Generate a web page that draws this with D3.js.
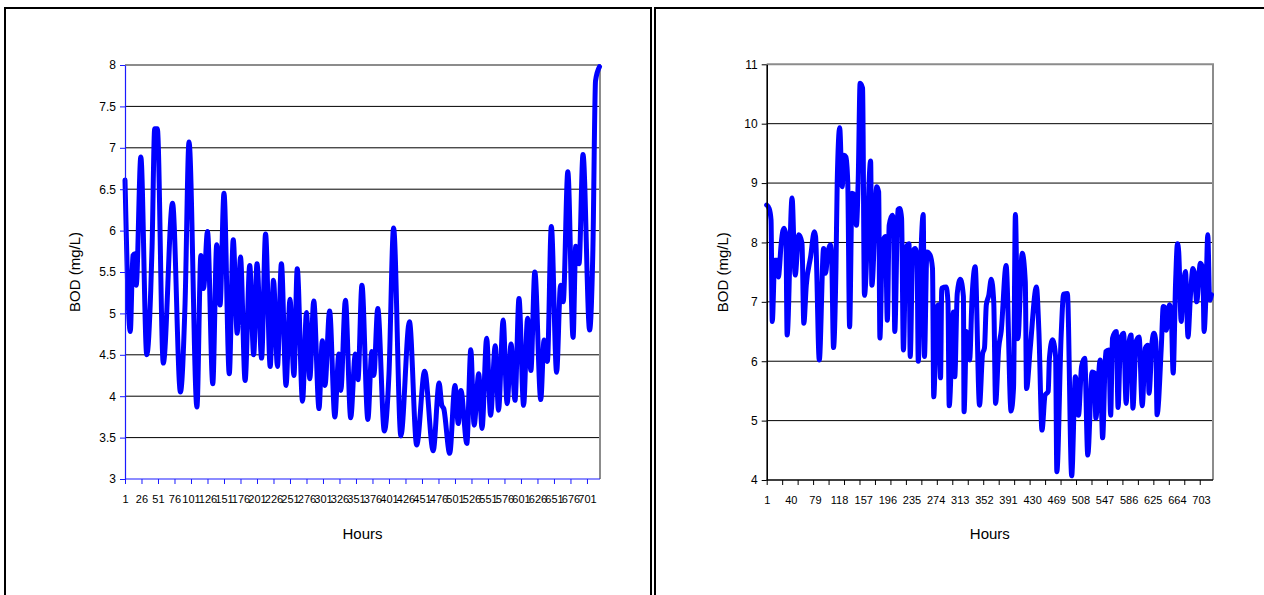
<!DOCTYPE html>
<html>
<head>
<meta charset="utf-8">
<script src="https://cdn.jsdelivr.net/npm/d3@7"></script>
<style>
  html, body { margin: 0; padding: 0; background: #fff; }
  svg { display: block; }
  text { font-family: "Liberation Sans", Arial, sans-serif; fill: #000; }
</style>
</head>
<body>
<svg id="chart" width="1264" height="595"></svg>
<script>
// Hourly BOD series, stored as (hour, mg/L) vertices of each trace.
const leftHours = [1,9,13,16,18,25,34,40,42,46,50,59,73,85,92,98,110,116,120,126,134,140,145,151,159,165,171,176,183,190,196,201,208,214,221,226,232,238,245,251,257,262,270,276,281,287,295,300,304,311,319,325,328,335,343,350,354,360,369,375,378,384,394,401,408,419,432,443,455,468,477,481,484,493,501,506,510,519,525,530,537,542,549,555,562,567,574,580,586,592,598,605,611,616,622,631,636,641,647,655,661,665,672,680,684,689,695,705,710,714,720];
const leftBOD = [6.61,4.78,5.70,5.72,5.34,6.89,4.50,5.28,5.80,7.23,7.23,4.40,6.33,4.05,5.12,7.07,3.87,5.70,5.30,5.99,4.15,5.83,5.10,6.45,4.27,5.89,4.76,5.68,4.19,5.58,4.50,5.60,4.46,5.96,4.36,5.40,4.36,5.60,4.13,5.17,4.25,5.54,3.94,5.01,4.21,5.15,3.85,4.67,4.13,5.03,3.75,4.51,4.07,5.16,3.74,4.51,4.20,5.34,3.72,4.54,4.25,5.06,3.58,4.27,6.03,3.52,4.90,3.41,4.30,3.34,4.16,3.89,3.85,3.31,4.13,3.67,4.07,3.43,4.56,3.65,4.27,3.61,4.70,3.77,4.61,3.83,4.92,3.91,4.63,3.95,5.18,3.89,4.94,4.31,5.50,3.96,4.68,4.42,6.05,4.29,5.34,5.14,6.71,4.71,5.81,5.60,6.92,4.80,5.78,7.81,7.98];

const rightHours = [1,5,8,10,14,18,20,22,24,29,32,34,42,47,53,58,61,65,72,78,80,86,93,96,100,104,106,109,113,115,119,123,126,129,132,135,139,143,146,149,152,156,159,169,171,179,182,184,188,193,196,199,204,206,208,213,216,219,222,226,231,233,237,241,244,246,250,254,256,260,265,269,271,276,279,282,284,291,294,296,303,305,309,314,319,320,324,329,333,338,345,350,353,356,360,364,368,371,376,380,388,396,400,403,407,414,419,421,427,437,441,446,451,456,458,463,468,470,477,481,487,494,500,505,510,515,520,527,531,533,540,544,549,554,557,560,566,569,573,578,582,586,590,593,598,603,608,613,617,619,624,627,630,632,639,642,645,647,652,655,658,662,665,667,671,674,678,682,686,690,693,696,702,706,708,711,714,717,720];
const rightBOD = [8.63,8.57,8.38,6.67,7.70,7.70,7.42,7.62,7.93,8.24,8.13,6.44,8.75,7.45,8.13,7.99,6.64,7.28,7.76,8.18,8.10,6.02,7.90,7.48,7.84,7.96,7.75,6.23,7.60,9.02,9.93,8.94,9.47,9.44,9.02,6.58,8.83,8.80,8.29,9.08,10.68,10.60,7.11,9.37,7.28,8.94,8.85,6.39,7.99,8.10,6.69,8.29,8.46,8.40,6.50,8.55,8.57,8.41,6.19,7.90,7.98,6.08,7.84,7.90,7.73,6.00,7.70,8.47,6.08,7.84,7.79,7.56,5.40,6.89,6.95,5.72,7.23,7.25,7.00,5.25,6.83,5.74,7.14,7.38,7.09,5.15,6.50,6.02,7.09,7.59,5.26,6.13,6.22,6.95,7.11,7.38,7.00,5.29,6.22,6.50,7.61,5.16,5.55,8.47,6.38,7.82,7.34,5.54,6.22,7.25,6.50,4.84,5.43,5.49,6.05,6.36,6.08,4.14,6.44,7.13,7.14,4.07,5.74,5.09,5.91,6.05,4.42,5.82,5.80,5.04,6.02,4.71,6.16,6.19,5.09,6.39,6.50,5.22,6.38,6.47,5.29,6.27,6.44,5.21,6.33,6.41,5.25,6.22,6.27,5.46,6.33,6.47,6.33,5.10,6.27,6.92,6.90,6.52,6.95,6.78,5.80,7.34,7.98,7.84,6.67,7.20,7.51,6.41,7.11,7.56,7.45,7.00,7.65,7.56,6.50,7.10,8.13,7.03,7.12];

// Axis ticks and labels
const leftYTicks = [3,3.5,4,4.5,5,5.5,6,6.5,7,7.5,8];
const leftXTicks = d3.range(1, 702, 25);            // 1, 26, ..., 701
const rightYTicks = [4,5,6,7,8,9,10,11];
const rightXTickMarks = d3.range(1, 702, 25);      // marks every 25 hours
const rightXLabels = d3.range(1, 704, 39);         // 1, 40, ..., 703

const svg = d3.select("#chart");

// Outer chart frames
svg.append("rect").attr("x", 5).attr("y", 8).attr("width", 646).attr("height", 620)
  .attr("fill", "#fff").attr("stroke", "#000").attr("stroke-width", 2);
svg.append("rect").attr("x", 655).attr("y", 8).attr("width", 640).attr("height", 620)
  .attr("fill", "#fff").attr("stroke", "#000").attr("stroke-width", 2);

function drawChart(cfg) {
  const g = svg.append("g");
  const x = d3.scaleLinear().domain([1, 720]).range([cfg.x0, cfg.x1]);
  const y = d3.scaleLinear().domain(cfg.yDomain).range([cfg.yb, cfg.yt]);

  // horizontal gridlines
  g.append("g").selectAll("line")
    .data(cfg.yTicks.filter(v => v > cfg.yDomain[0] && v < cfg.yDomain[1]))
    .join("line")
    .attr("x1", cfg.x0).attr("x2", cfg.xr)
    .attr("y1", d => y(d)).attr("y2", d => y(d))
    .attr("stroke", "#000").attr("stroke-width", 1);

  // plot area frame: top and right in grey
  g.append("path")
    .attr("d", `M${cfg.x0},${cfg.yt}H${cfg.xr}V${cfg.yb}`)
    .attr("fill", "none").attr("stroke", "#8c8c8c").attr("stroke-width", 2);

  // series line
  const pts = cfg.hours.map((h, i) => [h, cfg.values[i]]);
  g.append("path")
    .datum(pts)
    .attr("d", d3.line().curve(d3.curveMonotoneX).x(d => x(d[0])).y(d => y(d[1])))
    .attr("fill", "none")
    .attr("stroke", "#0000ff")
    .attr("stroke-width", 5)
    .attr("stroke-linejoin", "round")
    .attr("stroke-linecap", "round");

  // y axis
  const yAxis = g.append("g")
    .attr("transform", `translate(${cfg.x0},0)`)
    .call(d3.axisLeft(y).tickValues(cfg.yTicks).tickSize(5).tickSizeOuter(0).tickPadding(4)
      .tickFormat(d => String(d)));
  yAxis.select(".domain").attr("stroke", cfg.axisColor).attr("stroke-width", cfg.axisWidth);
  yAxis.selectAll(".tick line").attr("stroke", cfg.axisColor);
  yAxis.selectAll(".tick text").attr("font-size", 12).attr("font-family", "Liberation Sans, Arial, sans-serif");

  // x axis tick marks
  const xAxis = g.append("g")
    .attr("transform", `translate(0,${cfg.yb})`)
    .call(d3.axisBottom(x).tickValues(cfg.xTickMarks).tickSize(5).tickSizeOuter(0)
      .tickFormat(cfg.xLabels ? "" : (d => String(d))).tickPadding(11));
  xAxis.select(".domain")
    .attr("d", `M${cfg.x0},0H${cfg.xr}`)
    .attr("stroke", cfg.axisColor).attr("stroke-width", cfg.axisWidth);
  xAxis.selectAll(".tick line").attr("stroke", cfg.axisColor);
  xAxis.selectAll(".tick text").attr("font-size", 11).attr("font-family", "Liberation Sans, Arial, sans-serif");

  // separate label axis where labels differ from tick marks
  if (cfg.xLabels) {
    const lab = g.append("g")
      .attr("transform", `translate(0,${cfg.yb})`)
      .call(d3.axisBottom(x).tickValues(cfg.xLabels).tickSize(0).tickPadding(16)
        .tickFormat(d => String(d)));
    lab.select(".domain").remove();
    lab.selectAll(".tick text").attr("font-size", 11).attr("font-family", "Liberation Sans, Arial, sans-serif");
  }

  // axis titles
  g.append("text")
    .attr("transform", `translate(${cfg.yTitleX},${(cfg.yt + cfg.yb) / 2}) rotate(-90)`)
    .attr("text-anchor", "middle").attr("dominant-baseline", "central")
    .attr("font-size", 15).text("BOD (mg/L)");
  g.append("text")
    .attr("x", (cfg.x0 + cfg.xr) / 2).attr("y", 533)
    .attr("text-anchor", "middle").attr("dominant-baseline", "central")
    .attr("font-size", 15).text("Hours");
}

drawChart({
  x0: 125, x1: 599.5, xr: 600, yt: 65, yb: 479,
  yDomain: [3, 8], yTicks: leftYTicks,
  xTickMarks: leftXTicks, xLabels: null,
  hours: leftHours, values: leftBOD,
  axisColor: "#1a1aff", axisWidth: 1.2, yTitleX: 74
});

drawChart({
  x0: 766.7, x1: 1211.5, xr: 1213, yt: 64.3, yb: 480,
  yDomain: [4, 11], yTicks: rightYTicks,
  xTickMarks: rightXTickMarks, xLabels: rightXLabels,
  hours: rightHours, values: rightBOD,
  axisColor: "#000", axisWidth: 1.6, yTitleX: 722
});
</script>
</body>
</html>
